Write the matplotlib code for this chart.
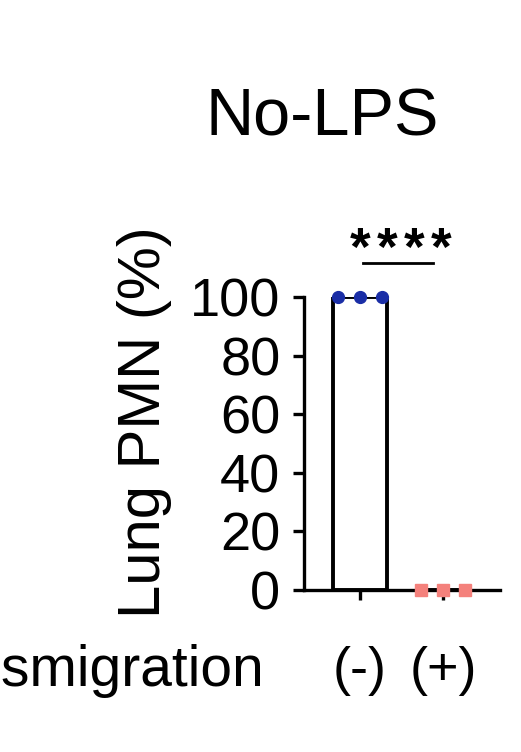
import matplotlib
matplotlib.use("Agg")
from matplotlib import pyplot as plt
import numpy as np

# data
groups = ["(-)", "(+)"]
bar_means = [100, 0]
points_neg = [100, 100, 100]
points_pos = [0, 0, 0]
y_ticks = [0, 20, 40, 60, 80, 100]

plt.rcParams['font.family'] = ['Liberation Sans', 'DejaVu Sans']

W, H = 521, 752
fig = plt.figure(figsize=(W / 100, H / 100), dpi=100)
ax = fig.add_axes([304 / W, 1 - 590 / H, 196 / W, 293 / H])

ind = np.arange(len(groups))
ax.bar(ind, bar_means, width=0.65, color='white', edgecolor='black',
       linewidth=2.8, zorder=2)

offs = np.array([-0.27, 0, 0.27])
ax.plot(ind[0] + offs, points_neg, 'o', color='#1a2ea6', markersize=8.5,
        clip_on=False, zorder=3)
ax.plot(ind[1] + offs, points_pos, 's', color='#f4817c', markersize=8.5,
        clip_on=False, zorder=3)

ax.set_xlim(-0.675, 1.687)
ax.set_ylim(0, 100)
ax.set_yticks(y_ticks)
ax.set_xticks(ind)
ax.set_xticklabels(groups)

for side in ['top', 'right']:
    ax.spines[side].set_visible(False)
for side in ['left', 'bottom']:
    ax.spines[side].set_linewidth(2.4)

ax.tick_params(axis='y', length=8, width=2.4, pad=9, labelsize=39)
ax.tick_params(axis='x', length=7, width=2.4, pad=33, labelsize=39)

ax.set_ylabel("Lung PMN (%)", fontsize=43)
ax.yaxis.set_label_coords(-0.673, 0.573)

# significance bar
ax.plot([0.036, 0.88], [111.6, 111.6], color='black', linewidth=2,
        clip_on=False)
for xs in 0.494 + np.array([-0.488, -0.163, 0.163, 0.488]):
    ax.text(xs, 111, "*", ha='center', va='baseline', fontsize=38,
            fontweight='bold')

fig.text(322 / W, 1 - 135 / H, "No-LPS", ha='center', va='baseline',
         fontsize=48)
fig.text(265 / W, 1 - 686 / H, "Transmigration", ha='right',
         va='baseline', fontsize=41)

fig.savefig('out.png', dpi=100)
